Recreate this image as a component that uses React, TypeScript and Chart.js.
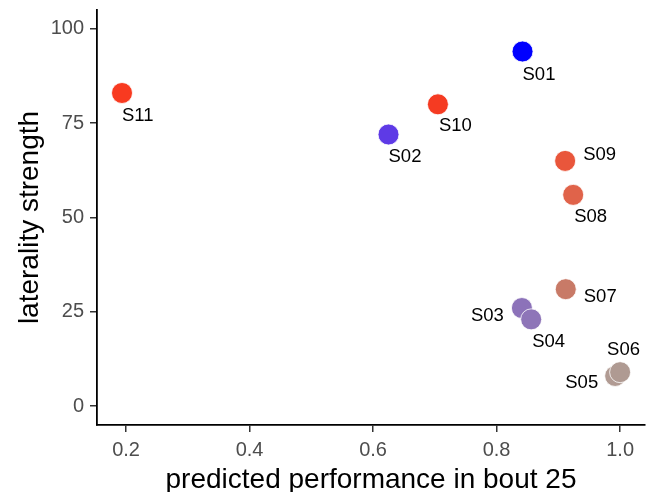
import React, { useEffect, useRef } from "react";
import { Chart, registerables } from "chart.js";

Chart.register(...registerables);

// ---- data ----
const subjects = ["S01", "S02", "S03", "S04", "S05", "S06", "S07", "S08", "S09", "S10", "S11"];
const predictedPerformance = [0.842, 0.625, 0.841, 0.856, 0.992, 1.0, 0.912, 0.924, 0.911, 0.705, 0.1935];
const lateralityStrength = [94, 72, 26, 23, 8, 9, 31, 56, 65, 80, 83];
const pointColors = [
  "#0000FF", "#5E3AE6", "#8C72B9", "#8E75B8", "#B19B93", "#AF9A92",
  "#C87A67", "#E0634A", "#E9563B", "#F53B22", "#F83A20",
];
const xTickValues = [0.2, 0.4, 0.6, 0.8, 1.0];
const yTickValues = [0, 25, 50, 75, 100];

// label placement (pixel offset from the point, text alignment)
const labelPlacement: [number, number, CanvasTextAlign][] = [
  [0, 23, "left"], [0, 22, "left"], [-18, 8, "right"], [1, 23, "left"],
  [-17, 7, "right"], [-13, -22, "left"], [18, 8, "left"], [1, 22, "left"],
  [18, -6, "left"], [1, 22, "left"], [0, 23, "left"],
];

const FONT = "'Liberation Sans', Arial, Helvetica, sans-serif";

const pointLabels = {
  id: "pointLabels",
  afterDatasetsDraw(chart: any) {
    const ctx = chart.ctx;
    const meta = chart.getDatasetMeta(0);
    ctx.save();
    ctx.font = `18.5px ${FONT}`;
    ctx.fillStyle = "#000000";
    ctx.textBaseline = "middle";
    meta.data.forEach((el: any, i: number) => {
      const [dx, dy, align] = labelPlacement[i];
      ctx.textAlign = align;
      ctx.fillText(subjects[i], el.x + dx, el.y + dy);
    });
    ctx.restore();
  },
};

export default function App() {
  const ref = useRef<HTMLCanvasElement | null>(null);

  useEffect(() => {
    document.body.style.margin = "0";
    const canvas = ref.current!;
    const chart = new Chart(canvas, {
      type: "scatter",
      data: {
        datasets: [
          {
            data: predictedPerformance.map((x, i) => ({ x, y: lateralityStrength[i] })),
            backgroundColor: pointColors,
            borderColor: "#ffffff",
            borderWidth: 0.8,
            pointRadius: 10.5,
            pointHoverRadius: 10.5,
            clip: false,
          },
        ],
      },
      options: {
        responsive: false,
        animation: false,
        events: [],
        layout: { autoPadding: false, padding: { top: 10, right: 5, left: 0, bottom: 0 } },
        plugins: { legend: { display: false }, tooltip: { enabled: false } },
        scales: {
          x: {
            type: "linear",
            min: 0.153,
            max: 1.0403,
            afterBuildTicks: (s: any) => {
              s.ticks = xTickValues.map((v) => ({ value: v }));
            },
            afterFit: (s: any) => {
              s.height = 67;
              s.paddingLeft = 0;
              s.paddingRight = 0;
            },
            ticks: {
              color: "#4d4d4d",
              font: { family: FONT, size: 20 },
              padding: 6,
              maxRotation: 0,
              callback: (v: any) => Number(v).toFixed(1),
            },
            grid: { drawOnChartArea: false, drawTicks: true, tickLength: 7, color: "#333333", lineWidth: 1.5 },
            border: { display: true, color: "#000000", width: 1.8 },
            title: {
              display: true,
              text: "predicted performance in bout 25",
              color: "#000000",
              font: { family: FONT, size: 28 },
              padding: { top: 0, bottom: -5 },
            },
          },
          y: {
            type: "linear",
            min: -5,
            max: 105,
            afterBuildTicks: (s: any) => {
              s.ticks = yTickValues.map((v) => ({ value: v }));
            },
            afterFit: (s: any) => {
              s.width = 97;
              s.paddingTop = 0;
              s.paddingBottom = 0;
            },
            ticks: {
              color: "#4d4d4d",
              font: { family: FONT, size: 20 },
              padding: 6,
            },
            grid: { drawOnChartArea: false, drawTicks: true, tickLength: 7, color: "#333333", lineWidth: 1.5 },
            border: { display: true, color: "#000000", width: 1.8 },
            title: {
              display: true,
              text: "laterality strength",
              color: "#000000",
              font: { family: FONT, size: 28 },
              padding: { top: 13, bottom: 0 },
            },
          },
        },
      },
      plugins: [pointLabels],
    });
    return () => chart.destroy();
  }, []);

  return (
    <div style={{ position: "absolute", left: 0, top: 0, width: 650, height: 492, background: "#fff" }}>
      <canvas ref={ref} width={650} height={492} />
    </div>
  );
}
